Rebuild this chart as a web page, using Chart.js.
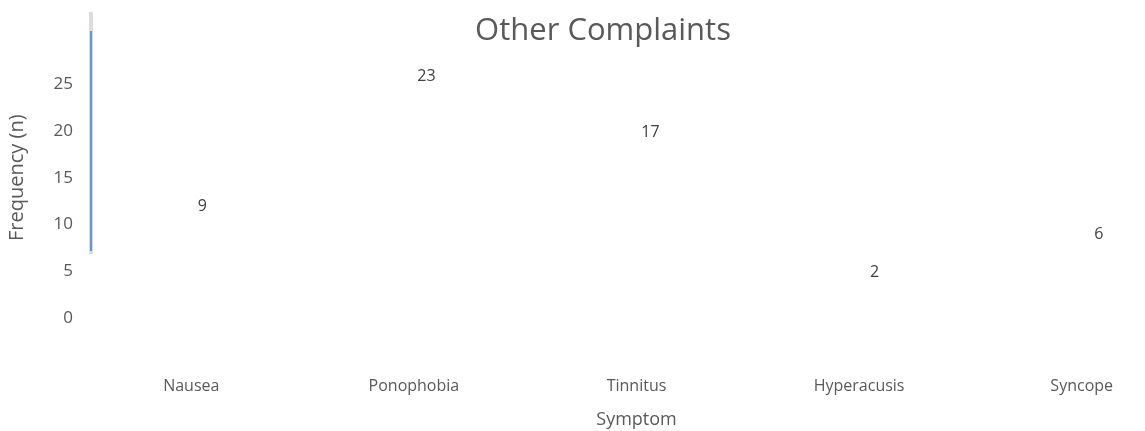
<!DOCTYPE html>
<html>
<head>
<meta charset="utf-8">
<script src="https://cdn.jsdelivr.net/npm/chart.js@4/dist/chart.umd.min.js"></script>
<style>
  html, body { margin: 0; padding: 0; background: #fff; overflow: hidden; }
  #wrap { position: absolute; left: 0; top: 0; width: 1200px; height: 431px; }
  #scrollbar { position: absolute; left: 89px; top: 12px; width: 4px; height: 242px; background: #dcdcdc; }
  #scrollbar div { position: absolute; left: 1px; top: 19px; width: 2px; height: 220px; background: #5b9bd5; }
</style>
</head>
<body>
<div id="wrap"><canvas id="chart" width="1200" height="431"></canvas></div>
<div id="scrollbar"><div></div></div>
<script>
//  DATA
var symptoms = ["Nausea", "Ponophobia", "Tinnitus", "Hyperacusis", "Syncope"];
var counts = [9, 23, 17, 2, 6];
var yTicks = [0, 5, 10, 15, 20, 25];

var textColor = "#595959";
var fontFamily = "'Open Sans', 'Noto Sans', sans-serif";

//  PLUGINS
// value labels above each (hidden) bar
var valueLabels = {
  id: "valueLabels",
  afterDatasetsDraw: function (chart) {
    var ctx = chart.ctx;
    var meta = chart.getDatasetMeta(0);
    ctx.save();
    ctx.font = "16px " + fontFamily;
    ctx.fillStyle = "#404040";
    ctx.textAlign = "center";
    ctx.textBaseline = "middle";
    for (var i = 0; i < meta.data.length; i++) {
      var el = meta.data[i];
      ctx.fillText(String(counts[i]), el.x + 11 + i * 1.5, el.y - 27);
    }
    ctx.restore();
  }
};

// title drawn over the top of the plot
var titleText = {
  id: "titleText",
  afterDraw: function (chart) {
    var ctx = chart.ctx;
    ctx.save();
    ctx.font = "31px " + fontFamily;
    ctx.fillStyle = textColor;
    ctx.textAlign = "center";
    ctx.textBaseline = "middle";
    ctx.fillText("Other Complaints", 603, 31);
    ctx.restore();
  }
};

//  CHART
new Chart(document.getElementById("chart"), {
  type: "bar",
  data: {
    labels: symptoms,
    datasets: [{
      data: counts,
      backgroundColor: "rgba(0,0,0,0)",
      borderWidth: 0
    }]
  },
  options: {
    responsive: false,
    animation: false,
    layout: { padding: { top: 37.5, right: 7, bottom: 0, left: 0 } },
    plugins: {
      legend: { display: false },
      tooltip: { enabled: false }
    },
    scales: {
      x: {
        grid: { display: false, drawTicks: false },
        border: { display: false },
        ticks: {
          color: textColor,
          font: { family: fontFamily, size: 16 },
          padding: 59,
          maxRotation: 0
        },
        title: {
          display: true,
          text: "Symptom",
          color: textColor,
          font: { family: fontFamily, size: 18 },
          padding: { top: 0, bottom: 0 }
        },
        afterFit: function (scale) { scale.height = 113; }
      },
      y: {
        min: 0,
        max: 30,
        grid: { display: false, drawTicks: false },
        border: { display: false },
        afterBuildTicks: function (scale) {
          scale.ticks = yTicks.map(function (v) { return { value: v }; });
        },
        ticks: {
          color: textColor,
          font: { family: fontFamily, size: 17 },
          padding: 7
        },
        title: {
          display: true,
          text: "Frequency (n)",
          color: textColor,
          font: { family: fontFamily, size: 20 },
          padding: { top: 5, bottom: 0 }
        },
        afterFit: function (scale) { scale.width = 80; }
      }
    }
  },
  plugins: [valueLabels, titleText]
});
</script>
</body>
</html>
